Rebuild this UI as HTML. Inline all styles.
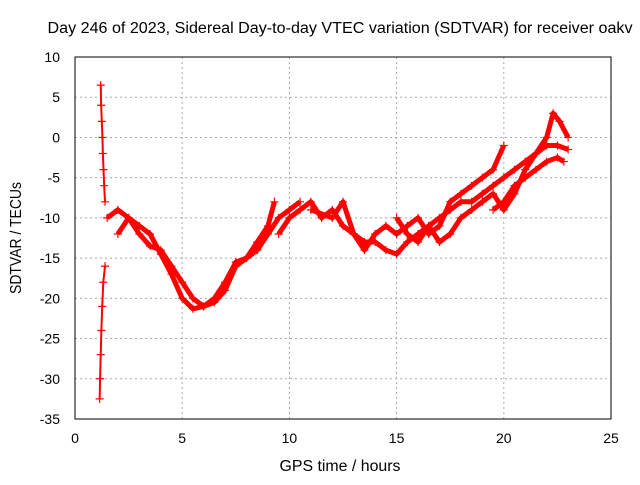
<!DOCTYPE html>
<html><head><meta charset="utf-8"><style>
body{margin:0;background:#fff}
svg text{font-family:"Liberation Sans",sans-serif;font-size:14px;fill:#000}
</style></head><body>
<svg id="chart" width="640" height="480">
<text x="340" y="33" text-anchor="middle" textLength="585" lengthAdjust="spacingAndGlyphs" style="font-size:15.5px">Day 246 of 2023, Sidereal Day-to-day VTEC variation (SDTVAR) for receiver oakv</text>
<text x="340" y="471" text-anchor="middle" textLength="121" lengthAdjust="spacingAndGlyphs" style="font-size:15.5px">GPS time / hours</text>
<text transform="translate(21,238) rotate(-90)" text-anchor="middle" textLength="112" lengthAdjust="spacingAndGlyphs" style="font-size:15.5px">SDTVAR / TECUs</text>
<g id="grid"></g><g id="ticks"></g><g id="series"></g>
<rect x="75" y="57" width="536" height="362" fill="none" stroke="#000"/>
</svg>
<script>
const xTicks=[0,5,10,15,20,25];
const yTicks=[10,5,0,-5,-10,-15,-20,-25,-30,-35];
const s1x=[1.2,1.22,1.25,1.28,1.3,1.33,1.36,1.4];
const s1y=[6.5,4,2,0,-2,-4,-6,-8];
const s2x=[1.15,1.17,1.2,1.23,1.27,1.32,1.4];
const s2y=[-32.5,-30,-27,-24,-21,-18,-16];
const t1x=[1.5,2,2.5,3,3.5,4,4.5,5,5.5,6,6.5,7,7.5,8,8.5,9,9.3];
const t1y=[-10,-9,-10,-12,-13.5,-14,-16,-18,-20,-21,-20.5,-19,-16,-15,-13,-11,-8];
const t2x=[2,2.5,3,3.5,4,4.5,5,5.5,6,6.5,7,7.5,8,8.5,9,9.5,10,10.5];
const t2y=[-12,-10,-11,-12,-14.5,-17,-20,-21.3,-21,-20,-18,-15.5,-15,-14,-12,-10,-9,-8];
const t3x=[9.5,10,10.5,11,11.5,12,12.5,13,13.5,14,14.5,15,15.5,16,16.5,17,17.5,18,18.5,19,19.5,20];
const t3y=[-12,-10,-9,-8,-10,-9,-11,-12,-14,-12,-11,-12,-11,-10,-12,-11,-8,-7,-6,-5,-4,-1];
const t4x=[11,12,12.5,13,13.5,14,14.5,15,15.5,16,16.5,17,17.5,18,18.5,19,19.5,20,20.5,21,21.5,22,22.3,22.6,23];
const t4y=[-9,-10,-8,-12,-13,-13,-14,-14.5,-13,-12,-11,-10,-9,-8,-8,-7,-6,-5,-4,-3,-2,0,3,2,0];
const t5x=[15,15.5,16,16.5,17,17.5,18,18.5,19,19.5,20,20.5,21,21.5,22,22.5,23];
const t5y=[-10,-12,-13,-11,-13,-12,-10,-9,-8,-7,-9,-7,-4,-2,-1,-1,-1.5];
const t6x=[19.5,20,20.5,21,21.5,22,22.5,22.8];
const t6y=[-9,-8,-6,-5,-4,-3,-2.5,-3];
const X=v=>75+(v-0)*(536/25), Y=v=>57+(10-v)*(362/45);
const NS='http://www.w3.org/2000/svg';
function mk(t,a,p){const e=document.createElementNS(NS,t);for(const k in a)e.setAttribute(k,a[k]);p.appendChild(e);return e;}
const grid=document.getElementById('grid'),ticks=document.getElementById('ticks'),ser=document.getElementById('series');
xTicks.forEach(v=>{
 if(v>0&&v<25){const g=mk('line',{x1:X(v),x2:X(v),y1:57,y2:419,stroke:'#aaa','stroke-dasharray':'2,3'},grid);
 
 }
 const t=mk('text',{x:X(v),y:443,'text-anchor':'middle'},ticks);t.textContent=v;
 
 
});
yTicks.forEach(v=>{
 if(v<10&&v>-35){const g=mk('line',{x1:75,x2:611,y1:Y(v),y2:Y(v),stroke:'#aaa','stroke-dasharray':'2,3'},grid);
 
 }
 const t=mk('text',{x:60,y:Y(v)+5,'text-anchor':'end'},ticks);t.textContent=v;
 
 
});
const all=[[s1x,s1y,2],[s2x,s2y,2],[t1x,t1y,5],[t2x,t2y,5],[t3x,t3y,5],[t4x,t4y,5],[t5x,t5y,5],[t6x,t6y,5]];
all.forEach((s,i)=>{
 const g=mk('g',{},ser);
 
 
 const pts=s[0].map((x,j)=>X(x)+','+Y(s[1][j])).join(' ');
 const pl=mk('polyline',{points:pts,fill:'none',stroke:'#f00','stroke-width':s[2],'stroke-linejoin':'round'},g);
 
 
 s[0].forEach((x,j)=>{const cx=X(x),cy=Y(s[1][j]);
  const m=mk('path',{d:`M${cx-4},${cy}h8M${cx},${cy-4}v8`,stroke:'#f00','stroke-width':1.2},g);
  
  });
});
</script>
</body></html>
